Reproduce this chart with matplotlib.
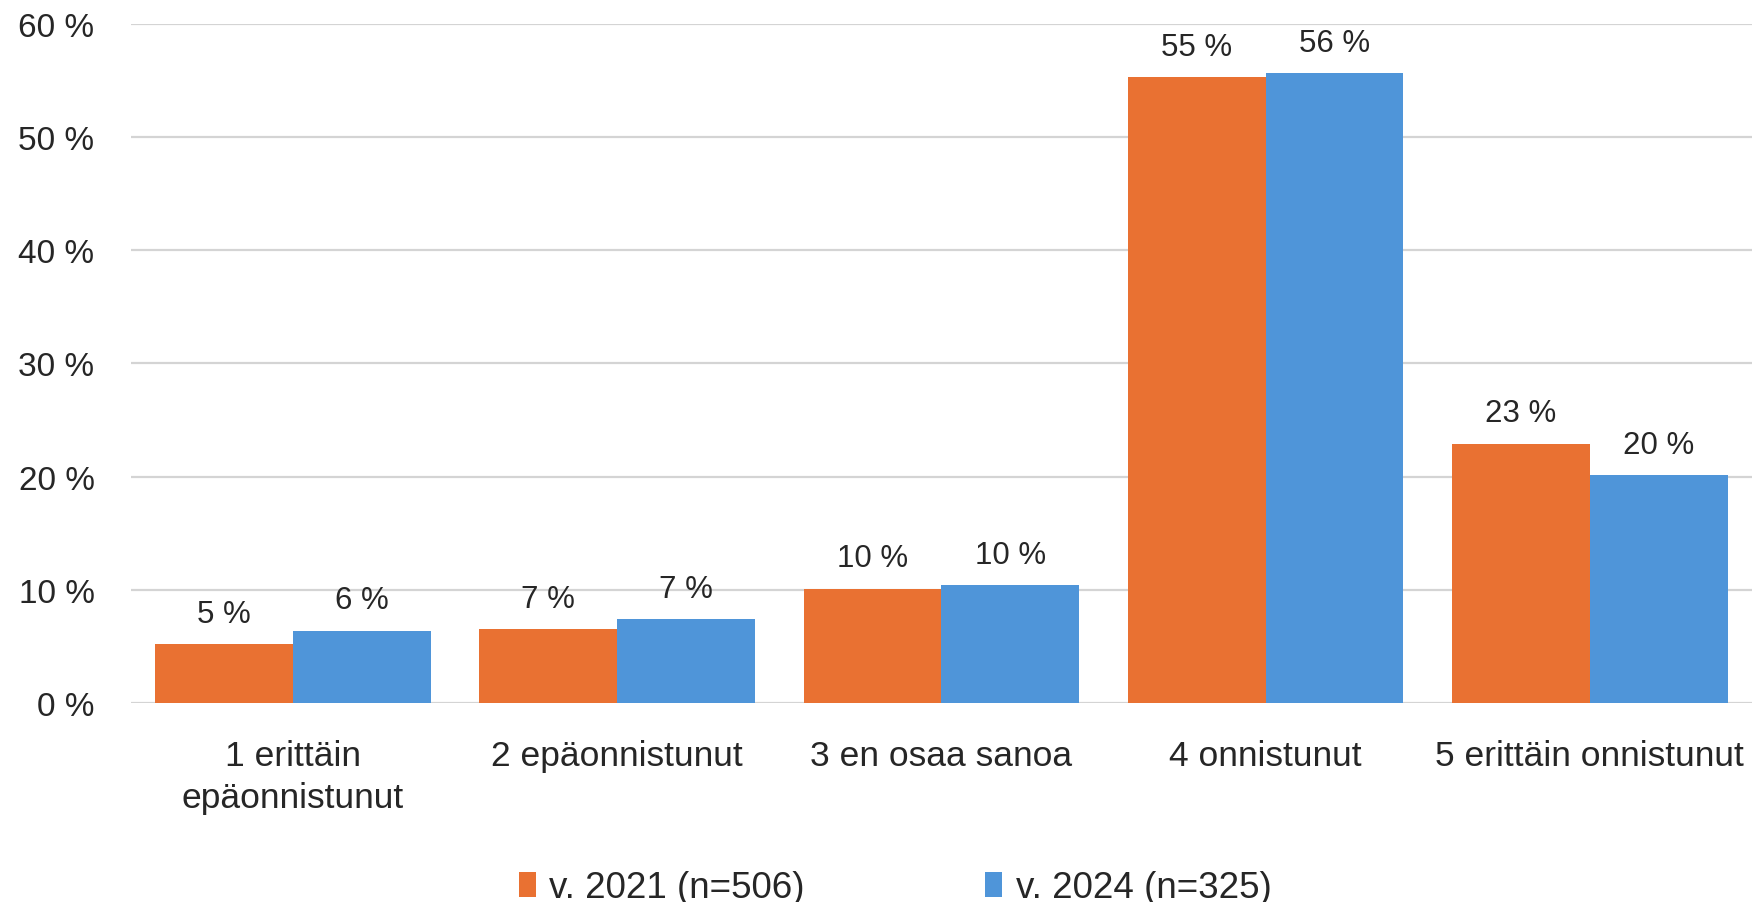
import matplotlib
matplotlib.use('Agg')
import matplotlib.pyplot as plt
import numpy as np

# ----------------------------------------------------
# data
# ----------------------------------------------------
categories = ['1 erittäin\nepäonnistunut', '2 epäonnistunut', '3 en osaa sanoa',
              '4 onnistunut', '5 erittäin onnistunut']
share_2021 = [5.2, 6.55, 10.1, 55.3, 22.9]
share_2024 = [6.4, 7.4, 10.4, 55.6, 20.1]
series_names = ['v. 2021 (n=506)', 'v. 2024 (n=325)']
yticks = [0, 10, 20, 30, 40, 50, 60]

col_2021 = '#E97132'
col_2024 = '#4F95D9'

num_font = ['Liberation Sans', 'DejaVu Sans']
cat_font = ['Liberation Sans', 'DejaVu Sans']

my_dpi = 100
fig = plt.figure(figsize=(1752/my_dpi, 903/my_dpi), dpi=my_dpi)
ax = fig.add_axes([0.0746, 0.2204, 0.9254, 0.7524])

x = np.arange(len(categories))
w = 0.425
b1 = ax.bar(x - w/2, share_2021, w, color=col_2021, label=series_names[0], zorder=2)
b2 = ax.bar(x + w/2, share_2024, w, color=col_2024, label=series_names[1], zorder=2)

for bars in (b1, b2):
    ax.bar_label(bars, labels=[f'{v:.0f} %' for v in bars.datavalues], padding=11,
                 fontsize=22.5, family=num_font, color='#262626')

ax.set_xlim(-0.5, 4.5)
ax.set_ylim(0, 60)
ax.set_yticks(yticks)
ax.set_yticklabels([f'{t} %' for t in yticks], family=num_font, fontsize=24, color='#262626')
ax.set_xticks(x)
ax.set_xticklabels(categories, family=cat_font, fontsize=25.5, color='#262626', linespacing=1.35)
ax.tick_params(axis='both', length=0)
ax.tick_params(axis='x', pad=26)
ax.tick_params(axis='y', pad=26)

ax.grid(axis='y', color='#d4d4d4', linewidth=1.6, zorder=0)
for s in ax.spines.values():
    s.set_visible(False)

fig.legend(handles=[b1, b2], loc='center', bbox_to_anchor=(0.511, 0.016), ncol=2,
           frameon=False, prop={'family': cat_font, 'size': 26.5}, handlelength=0.46,
           handleheight=0.68, handletextpad=0.37, columnspacing=4.9, labelcolor='#262626')

fig.savefig('out.png', dpi=my_dpi, facecolor='white')
